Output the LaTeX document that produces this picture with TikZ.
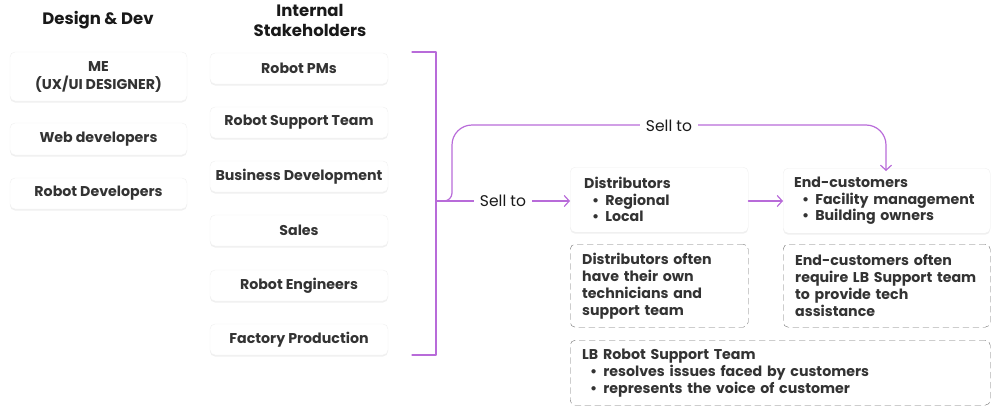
\documentclass[tikz,border=0pt]{standalone}
\usepackage{fontspec}
\setmainfont{Poppins}
\usetikzlibrary{arrows.meta,shadows}
\definecolor{inkgray}{HTML}{333333}
\definecolor{lilac}{HTML}{B86BD9}
\definecolor{dashgray}{HTML}{707070}
\tikzset{
  rolebox/.style={draw=black!6,fill=white,rounded corners=5pt,text=inkgray,
    font=\fontsize{14.2}{18}\selectfont\bfseries,align=center,
    drop shadow={opacity=0.12,shadow xshift=0pt,shadow yshift=-1.5pt}},
  chainbox/.style={rolebox,font=\fontsize{14.2}{16.5}\selectfont\bfseries,align=left,
    anchor=north west,inner xsep=14pt,inner ysep=7pt},
  notebox/.style={draw=dashgray,dashed,dash pattern=on 6pt off 4pt,rounded corners=5pt,
    text=inkgray,font=\fontsize{14.2}{17}\selectfont\bfseries,align=left,
    anchor=north west,inner xsep=12pt,inner ysep=6pt},
  headtext/.style={font=\fontsize{16.5}{20}\selectfont\bfseries,text=black!90,align=center},
  sellline/.style={draw=lilac,line width=1.2pt},
  selltip/.style={-{Straight Barb[length=5pt,width=11pt,line width=1.2pt]}},
  selltext/.style={fill=white,text=black!90,font=\fontsize{15.5}{18}\selectfont,inner xsep=6pt}
}
\newcommand{\bitem}[1]{\hspace*{8pt}\textbullet\hspace{6pt}\mbox{#1}}
\begin{document}
\begin{tikzpicture}[x=1pt,y=-1pt,line cap=round,line join=round]
  \useasboundingbox (0,0) rectangle (1001,415);

  % Column headings
  \node[headtext] (hdesign) at (98,20) {Design \& Dev};
  \node[headtext] (hinternal) at (310,20) {Internal\\Stakeholders};

  % Design & Dev column
  \node[rolebox,minimum width=177pt,minimum height=49pt] (me) at (98.5,76.5) {ME\\(UX/UI DESIGNER)};
  \node[rolebox,minimum width=177pt,minimum height=32pt] (webdev) at (98.5,139) {Web developers};
  \node[rolebox,minimum width=177pt,minimum height=31pt] (robdev) at (98.5,193.5) {Robot Developers};

  % Internal stakeholders column
  \node[rolebox,minimum width=178pt,minimum height=31pt] (pms) at (299,68.5) {Robot PMs};
  \node[rolebox,minimum width=178pt,minimum height=31pt] (supteam) at (299,122.5) {Robot Support Team};
  \node[rolebox,minimum width=178pt,minimum height=31pt] (bizdev) at (299,176.5) {Business Development};
  \node[rolebox,minimum width=178pt,minimum height=31pt] (sales) at (299,230.5) {Sales};
  \node[rolebox,minimum width=178pt,minimum height=31pt] (engineers) at (299,285.5) {Robot Engineers};
  \node[rolebox,minimum width=178pt,minimum height=31pt] (factory) at (299,339.5) {Factory Production};

  % Bracket round the stakeholders
  \coordinate (btop) at (412,52);
  \coordinate (bbot) at (412,355);
  \coordinate (bmid) at (436,201);
  \draw[sellline] (btop) -- (436,52) -- (436,355) -- (bbot);

  % Sales chain
  \node[chainbox,text width=150pt,minimum height=65pt] (dist) at (570,167)
    {Distributors\\\bitem{Regional}\\\bitem{Local}};
  \node[chainbox,text width=185pt,inner xsep=11pt,minimum height=65pt] (endcust) at (783,168)
    {End-customers\\\bitem{Facility management}\\\bitem{Building owners}};

  \draw[sellline,selltip] (bmid) -- node[selltext] (sell1) {Sell to} (dist.west |- bmid);
  \draw[sellline,selltip] (dist.east |- bmid) -- (endcust.west |- bmid);
  \draw[sellline,selltip,rounded corners=8pt] (bmid) -- (452,201)
    [rounded corners=20pt] -- (452,125) -- (886,125) -- ([yshift=-3pt]endcust.north -| 886,0);
  \node[selltext] (sell2) at (669,126) {Sell to};

  % Notes
  \node[notebox,text width=154pt,minimum width=178pt,minimum height=83pt] (distnote) at (570,244)
    {Distributors often\\have their own\\technicians and\\support team};
  \node[notebox,text width=183pt,minimum width=207pt,minimum height=83pt] (endnote) at (783,244)
    {End-customers often\\require LB Support team\\to provide tech\\assistance};
  \node[notebox,text width=396pt,minimum width=420pt,minimum height=65pt] (lbnote) at (570,340)
    {LB Robot Support Team\\\bitem{resolves issues faced by customers}\\\bitem{represents the voice of customer}};
\end{tikzpicture}
\end{document}
